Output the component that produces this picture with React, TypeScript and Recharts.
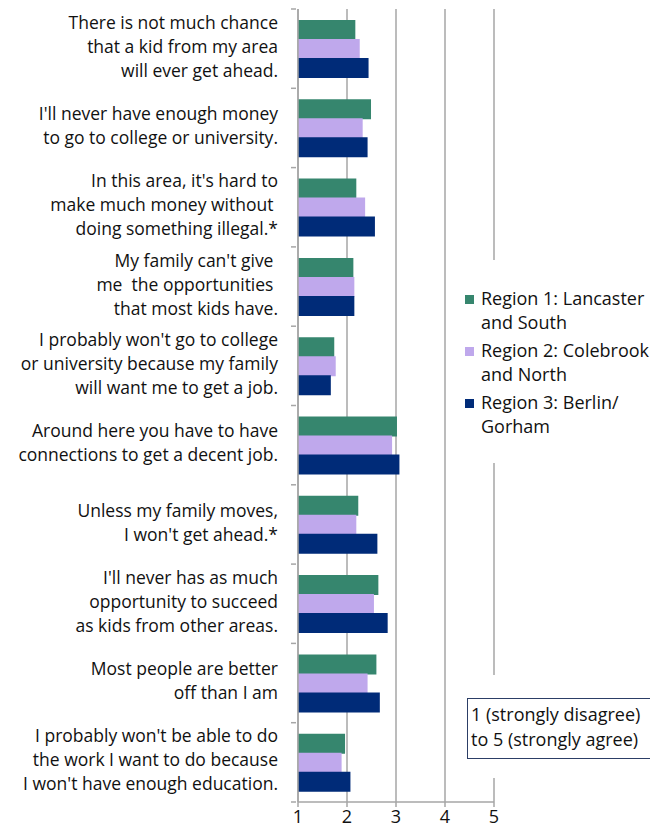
import React from "react";
import { Bar, BarChart, CartesianGrid, Legend, XAxis, YAxis } from "recharts";

document.body.style.margin = "0";

const statements: string[][] = [
  ["There is not much chance", "that a kid from my area", "will ever get ahead."],
  ["I'll never have enough money", "to go to college or university."],
  ["In this area, it's hard to", "make much money without ", "doing something illegal.*"],
  ["My family can't give ", "me  the opportunities ", "that most kids have."],
  ["I probably won't go to college", "or university because my family", "will want me to get a job."],
  ["Around here you have to have", "connections to get a decent job."],
  ["Unless my family moves,", "I won't get ahead.*"],
  ["I'll never has as much", "opportunity to succeed", "as kids from other areas."],
  ["Most people are better", "off than I am"],
  ["I probably won't be able to do", "the work I want to do because", "I won't have enough education."],
];

const region1 = [2.17, 2.49, 2.19, 2.13, 1.74, 3.02, 2.23, 2.64, 2.6, 1.96];
const region2 = [2.26, 2.32, 2.37, 2.15, 1.77, 2.92, 2.19, 2.55, 2.42, 1.89];
const region3 = [2.44, 2.42, 2.57, 2.15, 1.67, 3.07, 2.62, 2.83, 2.67, 2.07];

const seriesNames = [
  ["Region 1: Lancaster", "and South"],
  ["Region 2: Colebrook", "and North"],
  ["Region 3: Berlin/", "Gorham"],
];
const colors = ["#36866E", "#BFA8EC", "#002B78"];
const xTicks = [1, 2, 3, 4, 5];
const noteLines = ["1 (strongly disagree)", "to 5 (strongly agree)"];

const data = statements.map((s, i) => ({
  key: String(i),
  r1: region1[i],
  r2: region2[i],
  r3: region3[i],
}));

const W = 650;
const H = 830;
const MARGIN = { top: 9, right: 156, bottom: 0, left: 0 };
const XAXIS_H = 28;
const BAND = (H - MARGIN.top - MARGIN.bottom - XAXIS_H) / statements.length;
const FONT = "'Open Sans', Lato, sans-serif";
const FS = 18;
const LABEL_FS = 17.5;
const GRID = "#a6a6a6";

const StatementTick = (props: any) => {
  const { x, y, payload, index } = props;
  const lines = statements[Number(payload.value)] || [];
  const step = 24;
  const last = index === statements.length - 1;
  return (
    <g>
      <line x1={x + 13} x2={x + 18} y1={y - BAND / 2} y2={y - BAND / 2} stroke={GRID} strokeWidth={1.5} />
      {last && (
        <line x1={x + 13} x2={x + 18} y1={y + BAND / 2} y2={y + BAND / 2} stroke={GRID} strokeWidth={1.5} />
      )}
      <text x={x} y={y} textAnchor="end" fontFamily={FONT} fontSize={LABEL_FS} fill="#111">
        {lines.map((l, i) => (
          <tspan key={i} x={x} y={y - 2 + (i - (lines.length - 1) / 2) * step} dy="0.35em" style={{ whiteSpace: "pre" }}>
            {l}
          </tspan>
        ))}
      </text>
    </g>
  );
};

const LegendBox = () => (
  <div style={{ background: "#fff", width: 192, height: 203, fontFamily: FONT, fontSize: FS, color: "#111" }}>
    {seriesNames.map((lines, i) => (
      <div key={i} style={{ position: "absolute", left: 7, top: 26 + i * 52, display: "flex" }}>
        <div style={{ width: 9, height: 9, background: colors[i], marginTop: 9, marginRight: 7, flex: "none" }} />
        <div style={{ lineHeight: "24px", whiteSpace: "nowrap" }}>
          {lines.map((l, j) => (
            <div key={j}>{l}</div>
          ))}
        </div>
      </div>
    ))}
  </div>
);

export default function App() {
  return (
    <div style={{ position: "relative", width: W, height: H, background: "#fff", overflow: "hidden" }}>
      <BarChart
        width={W}
        height={H}
        data={data}
        layout="vertical"
        margin={MARGIN}
        barSize={20}
        barGap={-1}
      >
        <CartesianGrid horizontal={false} vertical stroke={GRID} strokeWidth={1.5} />
        <XAxis
          type="number"
          domain={[1, 5]}
          ticks={xTicks}
          height={XAXIS_H}
          stroke={GRID}
          strokeWidth={1.5}
          tickSize={5}
          tickMargin={3}
          tick={{ fill: "#111", fontSize: FS, fontFamily: FONT }}
        />
        <YAxis
          type="category"
          dataKey="key"
          width={298}
          stroke={GRID}
          strokeWidth={1.5}
          tickLine={false}
          tickSize={0}
          tickMargin={20}
          interval={0}
          tick={StatementTick}
        />
        <Legend
          layout="horizontal"
          verticalAlign="middle"
          align="center"
          content={LegendBox}
          wrapperStyle={{ left: 458, top: 260, width: 192, height: 203, overflow: "hidden" }}
        />
        <Bar dataKey="r1" name={seriesNames[0].join(" ")} fill={colors[0]} isAnimationActive={false} />
        <Bar dataKey="r2" name={seriesNames[1].join(" ")} fill={colors[1]} isAnimationActive={false} />
        <Bar dataKey="r3" name={seriesNames[2].join(" ")} fill={colors[2]} isAnimationActive={false} />
      </BarChart>
      <div style={{ position: "absolute", left: 460, top: 675, width: 190, height: 103, background: "#fff" }}>
        <div
          style={{
            position: "absolute",
            left: 7,
            top: 23,
            width: 200,
            height: 61,
            border: "1.5px solid #2c3e66",
            boxSizing: "border-box",
            fontFamily: FONT,
            fontSize: FS,
            lineHeight: "25px",
            padding: "3px 0 0 3px",
            color: "#111",
            whiteSpace: "nowrap",
          }}
        >
          {noteLines.map((l, i) => (
            <div key={i}>{l}</div>
          ))}
        </div>
      </div>
    </div>
  );
}
